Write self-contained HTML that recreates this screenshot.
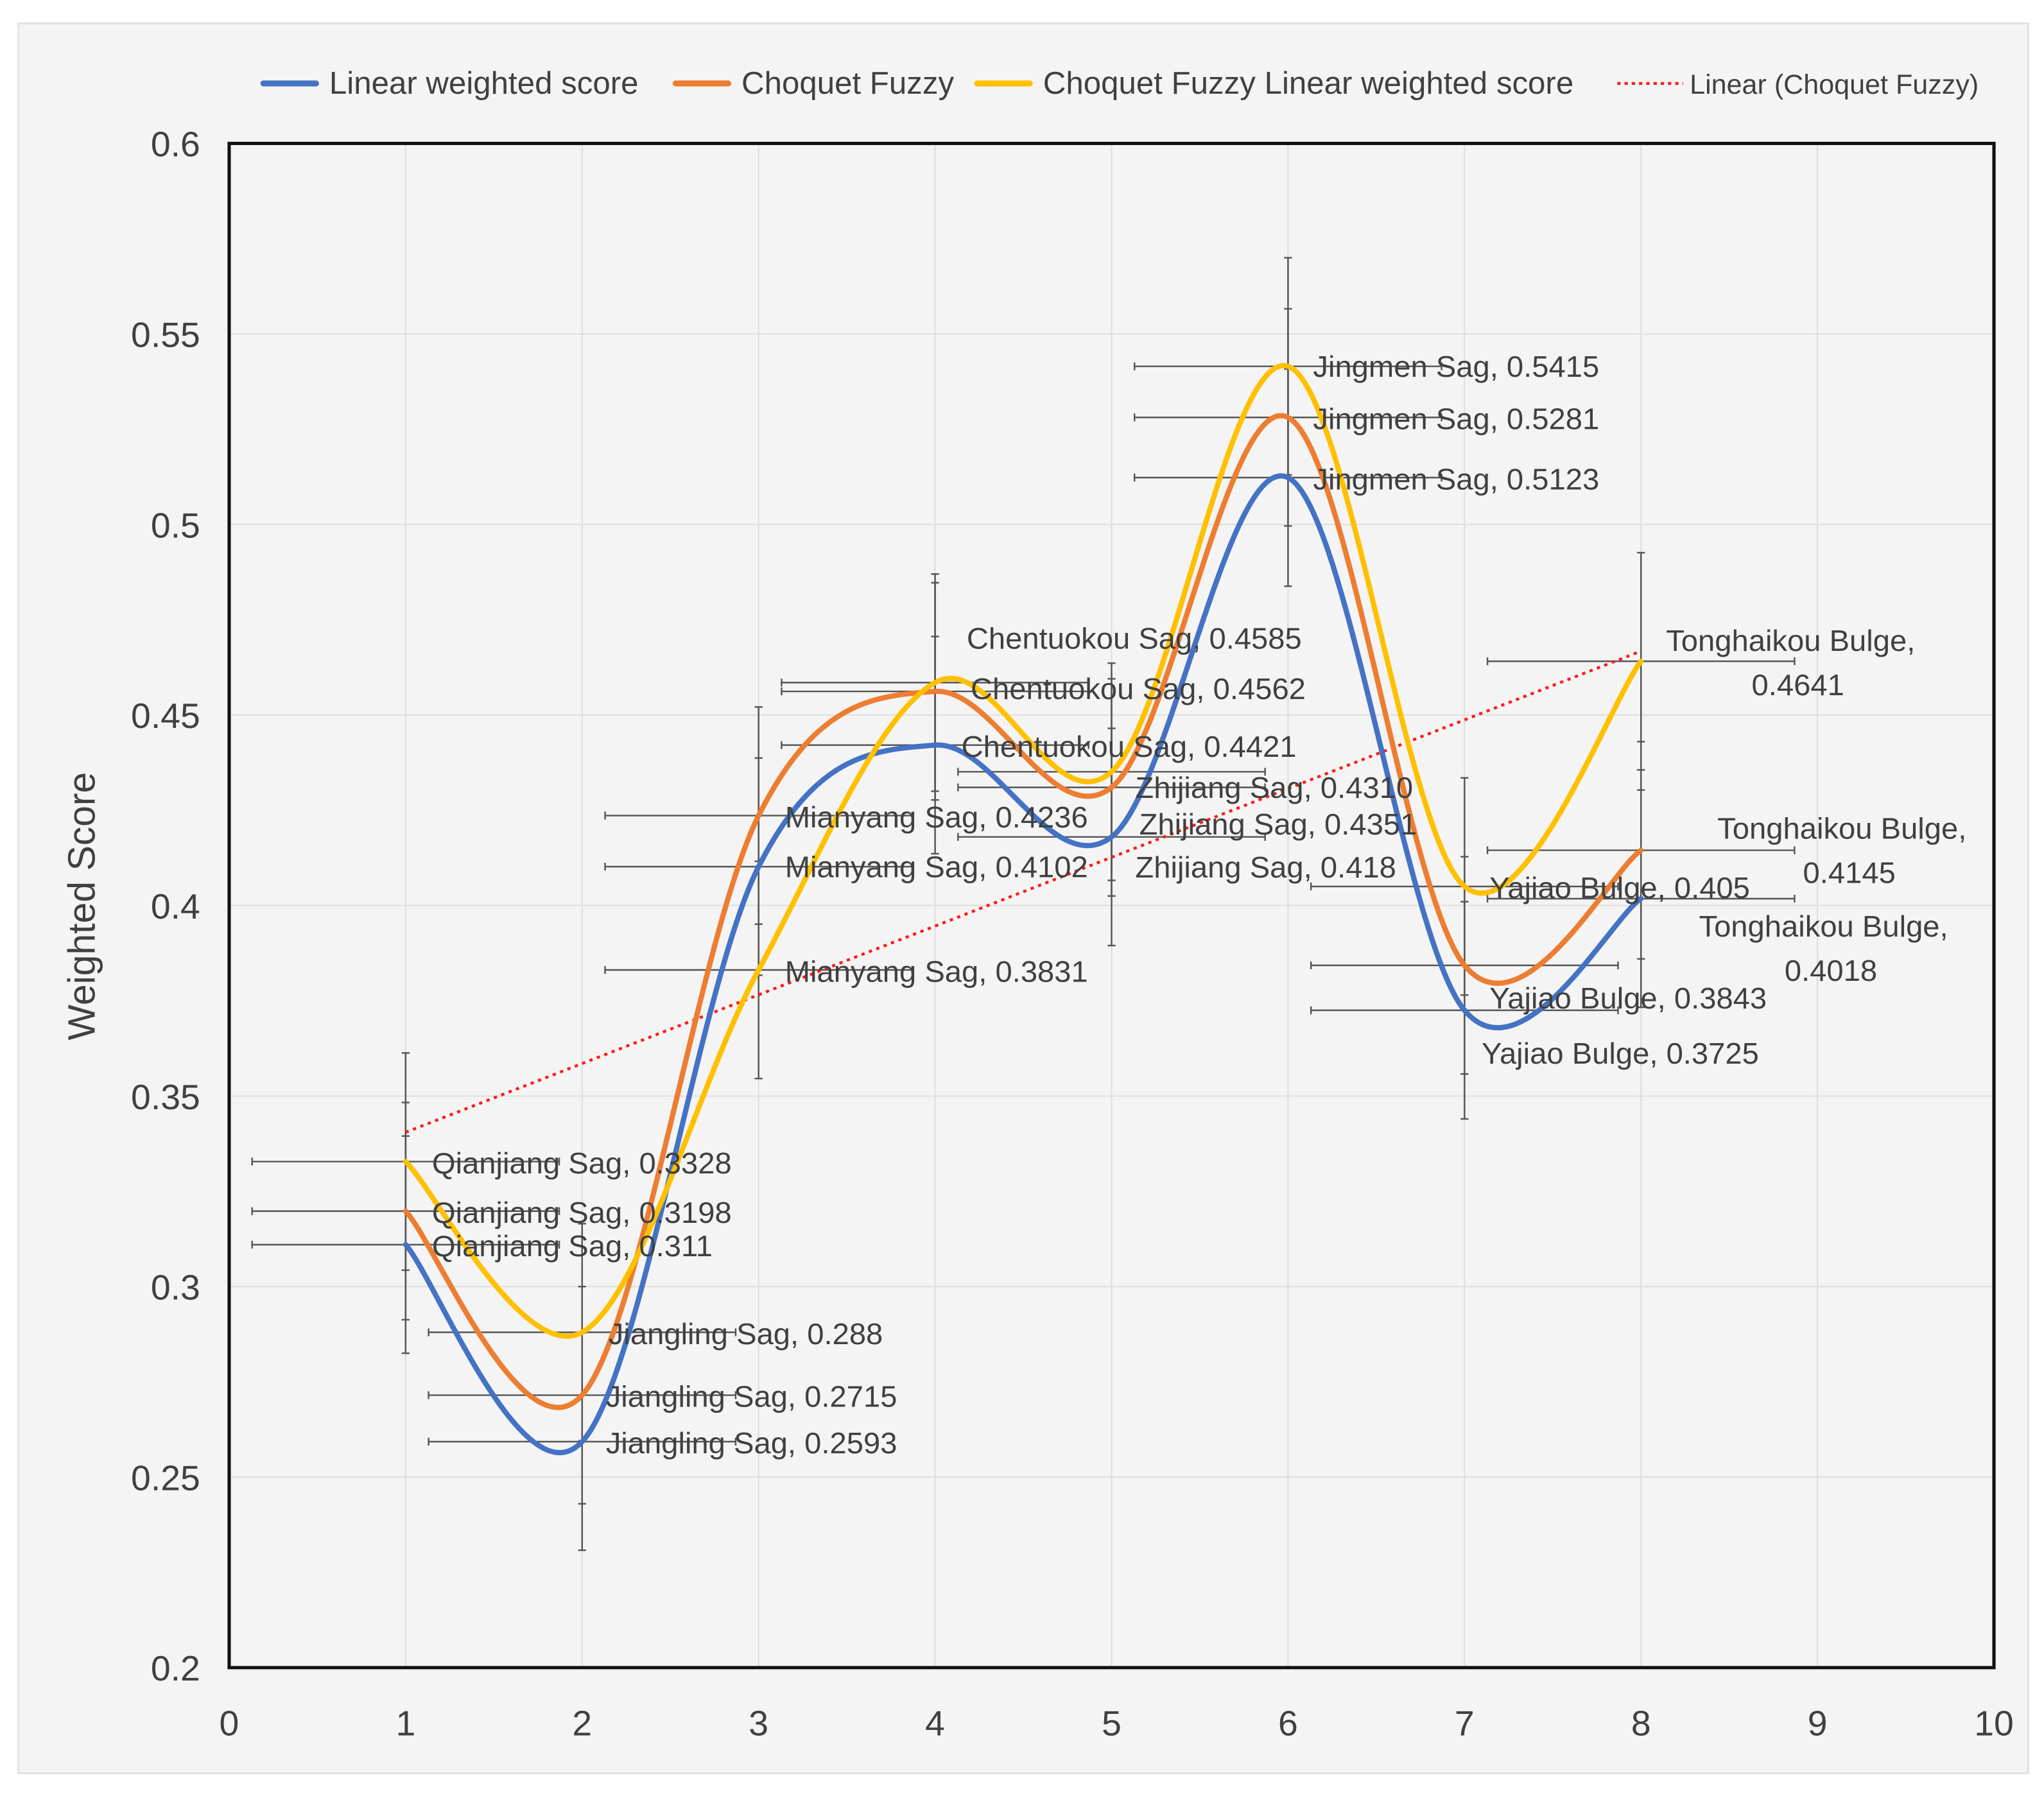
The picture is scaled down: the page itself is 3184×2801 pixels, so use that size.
<!DOCTYPE html>
<html><head><meta charset="utf-8"><style>
html,body{margin:0;padding:0;background:#fff;}
svg{display:block;}
text{font-family:"Liberation Sans",sans-serif;fill:#404040;}
</style></head><body>
<svg id="chart" width="3184" height="2801" viewBox="0 0 1552 1379" preserveAspectRatio="none" xmlns="http://www.w3.org/2000/svg">
<rect x="14" y="18" width="1526" height="1342" fill="#f4f4f4" stroke="#e2e2e2" stroke-width="1.5"/>
<g id="grid"></g>
<g id="errs"></g>
<g id="series"></g>
<g id="labels"></g>
<rect x="174" y="110" width="1340" height="1169" fill="none" stroke="#111" stroke-width="2.5"/>
<g id="axes"></g>
<text transform="translate(72,695) rotate(-90)" text-anchor="middle" font-size="29">Weighted Score</text>
<g id="legend"></g>
</svg>
<script>
const xs = [1,2,3,4,5,6,7,8];
const names = ["Qianjiang Sag","Jiangling Sag","Mianyang Sag","Chentuokou Sag","Zhijiang Sag","Jingmen Sag","Yajiao Bulge","Tonghaikou Bulge"];
const linearScore = [0.311,0.2593,0.4102,0.4421,0.418,0.5123,0.3725,0.4018];
const choquetFuzzy = [0.3198,0.2715,0.4236,0.4562,0.4310,0.5281,0.3843,0.4145];
const choquetLinear = [0.3328,0.288,0.3831,0.4585,0.4351,0.5415,0.405,0.4641];
const linearLabels = ["0.311","0.2593","0.4102","0.4421","0.418","0.5123","0.3725","0.4018"];
const fuzzyLabels = ["0.3198","0.2715","0.4236","0.4562","0.4310","0.5281","0.3843","0.4145"];
const choqLinLabels = ["0.3328","0.288","0.3831","0.4585","0.4351","0.5415","0.405","0.4641"];
const yErr = 0.0285;
const xErr = 0.87;
const xTicks = [0,1,2,3,4,5,6,7,8,9,10];
const yTicks = ["0.2","0.25","0.3","0.35","0.4","0.45","0.5","0.55","0.6"];

const NS="http://www.w3.org/2000/svg";
const L=174,R=1514,T=110,B=1279;
function sx(v){return L+(v-0)/(10-0)*(R-L);}
function sy(v){return B-(v-0.2)/(0.6-0.2)*(B-T);}
function mk(tag,attrs,parent){const e=document.createElementNS(NS,tag);for(const k in attrs)e.setAttribute(k,attrs[k]);parent.appendChild(e);return e;}

const grid=document.getElementById('grid');
xTicks.forEach(t=>{if(t>0&&t<10){const l=mk('line',{x1:sx(t),x2:sx(t),y1:T,y2:B,stroke:'#dedede','stroke-width':1},grid);

}});
yTicks.forEach(t=>{const v=+t;if(v>0.2&&v<0.6){const l=mk('line',{x1:L,x2:R,y1:sy(v),y2:sy(v),stroke:'#dedede','stroke-width':1},grid);

}});

const axes=document.getElementById('axes');
xTicks.forEach(t=>{const e=mk('text',{x:sx(t),y:1331,'text-anchor':'middle','font-size':27},axes);e.textContent=t;

});
yTicks.forEach(t=>{const e=mk('text',{x:152,y:sy(+t)+10,'text-anchor':'end','font-size':27},axes);e.textContent=t;

});

const errs=document.getElementById('errs');
[linearScore,choquetFuzzy,choquetLinear].forEach(ser=>{
  ser.forEach((v,i)=>{
    const x=sx(xs[i]),y=sy(v);
    const g=mk('g',{stroke:'#555','stroke-width':1.2},errs);
    
    
    mk('line',{x1:x,x2:x,y1:sy(v+yErr),y2:sy(v-yErr)},g);
    mk('line',{x1:x-3,x2:x+3,y1:sy(v+yErr),y2:sy(v+yErr)},g);
    mk('line',{x1:x-3,x2:x+3,y1:sy(v-yErr),y2:sy(v-yErr)},g);
    mk('line',{x1:sx(xs[i]-xErr),x2:sx(xs[i]+xErr),y1:y,y2:y},g);
    mk('line',{x1:sx(xs[i]-xErr),x2:sx(xs[i]-xErr),y1:y-3,y2:y+3},g);
    mk('line',{x1:sx(xs[i]+xErr),x2:sx(xs[i]+xErr),y1:y-3,y2:y+3},g);
  });
});

const series=document.getElementById('series');
(function(){
  const n=xs.length;const mx=xs.reduce((a,b)=>a+b)/n;const my=choquetFuzzy.reduce((a,b)=>a+b)/n;
  let sxy=0,sxx=0;xs.forEach((x,i)=>{sxy+=(x-mx)*(choquetFuzzy[i]-my);sxx+=(x-mx)*(x-mx);});
  const b=sxy/sxx,a=my-b*mx;
  const l=mk('line',{x1:sx(xs[0]),y1:sy(a+b*xs[0]),x2:sx(xs[n-1]),y2:sy(a+b*xs[n-1]),stroke:'#ff1a1a','stroke-width':2.2,'stroke-dasharray':'2.5 3.5'},series);
  
  
})();
function smoothPath(vals){
  const p=vals.map((v,i)=>[sx(xs[i]),sy(v)]);
  let d='M'+p[0][0]+','+p[0][1];
  for(let i=0;i<p.length-1;i++){
    const p0=p[i-1]||p[i],p1=p[i],p2=p[i+1],p3=p[i+2]||p[i+1];
    const k=1/6;
    const c1=[p1[0]+(p2[0]-p0[0])*k,p1[1]+(p2[1]-p0[1])*k];
    const c2=[p2[0]-(p3[0]-p1[0])*k,p2[1]-(p3[1]-p1[1])*k];
    d+=' C'+c1[0]+','+c1[1]+' '+c2[0]+','+c2[1]+' '+p2[0]+','+p2[1];
  }
  return d;
}
const s1=mk('path',{d:smoothPath(linearScore),fill:'none',stroke:'#4472C4','stroke-width':4,'stroke-linecap':'round'},series);


const s2=mk('path',{d:smoothPath(choquetFuzzy),fill:'none',stroke:'#ED7D31','stroke-width':4,'stroke-linecap':'round'},series);


const s3=mk('path',{d:smoothPath(choquetLinear),fill:'none',stroke:'#FFC000','stroke-width':4,'stroke-linecap':'round'},series);



const offB=[[20,1],[18,1],[20,0],[20,1],[18,23],[19,1],[13,33],[44,21]];
const offF=[[20,1],[18,1],[20,1],[27,-2],[18,0],[19,1],[19,25],[58,-17]];
const offY=[[20,1],[20,1],[20,1],[24,-34],[21,40],[19,0],[19,1],[19,-16]];
const labels=document.getElementById('labels');
function addLabels(vals,txt,off){
  vals.forEach((v,i)=>{
    const x=sx(xs[i])+off[i][0],y=sy(v)+off[i][1]+8;
    if(i===7){
      const e=mk('text',{x:x,y:y,'font-size':23},labels);e.textContent=names[i]+',';
      
      
      const e2=mk('text',{x:x+65,y:y+34,'font-size':23},labels);e2.textContent=txt[i];
      
      
    } else {
      const e=mk('text',{x:x,y:y,'font-size':23},labels);e.textContent=names[i]+', '+txt[i];
      
      
    }
  });
}
addLabels(linearScore,linearLabels,offB);
addLabels(choquetFuzzy,fuzzyLabels,offF);
addLabels(choquetLinear,choqLinLabels,offY);

const legend=document.getElementById('legend');
const legItems=[["Linear weighted score","#4472C4",200,250,24,false],["Choquet Fuzzy","#ED7D31",513,563,24,false],["Choquet Fuzzy Linear weighted score","#FFC000",742,792,24,false],["Linear (Choquet Fuzzy)","#ff1a1a",1228,1283,21,true]];
legItems.forEach(it=>{
  const g=mk('g',{},legend);
  
  
  const a={x1:it[2],x2:it[2]+(it[5]?50:40),y1:64,y2:64,stroke:it[1],'stroke-width':it[5]?2.2:4.5,'stroke-linecap':it[5]?'butt':'round'};
  if(it[5])a['stroke-dasharray']='2.5 3';
  mk('line',a,g);
  const t=mk('text',{x:it[3],y:72,'font-size':it[4]},g);t.textContent=it[0];
});
</script>
</body></html>
